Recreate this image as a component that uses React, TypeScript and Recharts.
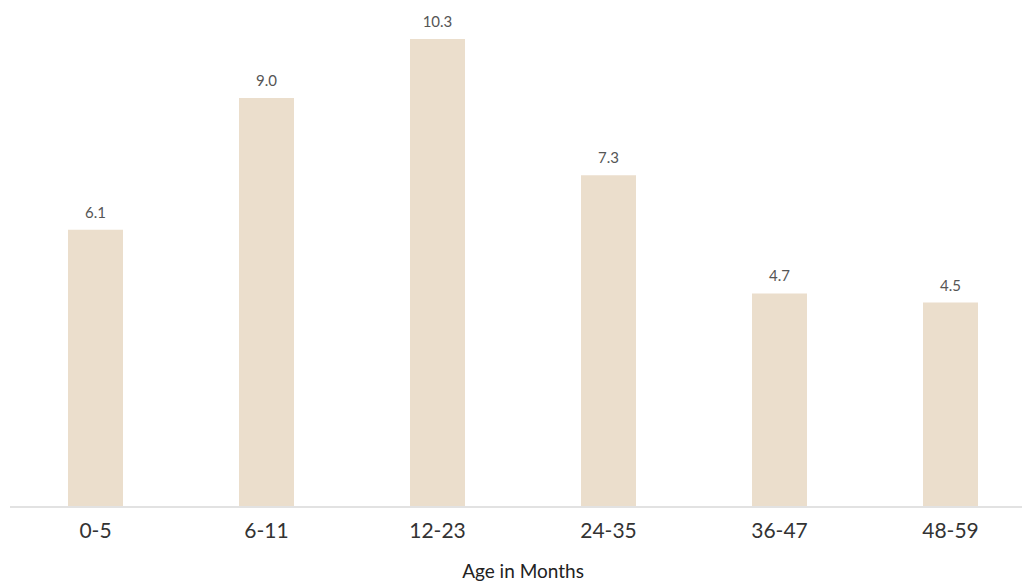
import React from "react";
import { BarChart, Bar, XAxis, YAxis, LabelList } from "recharts";

const categories = ["0-5", "6-11", "12-23", "24-35", "36-47", "48-59"];
const values = [6.1, 9.0, 10.3, 7.3, 4.7, 4.5];
const valueLabels = ["6.1", "9.0", "10.3", "7.3", "4.7", "4.5"];

const data = categories.map((c, i) => ({ age: c, value: values[i], label: valueLabels[i] }));

const FONT = "Lato, 'Open Sans', sans-serif";

export default function App() {
  return (
    <div style={{ position: "absolute", left: 0, top: 0, width: 1022, height: 582, overflow: "hidden", background: "#fff" }}>
      <BarChart
        width={1040}
        height={582}
        data={data}
        margin={{ top: 39, right: 4, bottom: 0, left: 10 }}
        barCategoryGap={0}
      >
        <XAxis
          dataKey="age"
          height={75}
          tickLine={false}
          axisLine={{ stroke: "#e2e2e2", strokeWidth: 2 }}
          tick={{ fill: "#333", fontSize: 21, fontFamily: FONT }}
          tickMargin={10}
          label={{ value: "Age in Months", position: "insideBottom", offset: 4, fill: "#222", fontSize: 19, fontFamily: FONT }}
        />
        <YAxis hide domain={[0, 10.3]} />
        <Bar dataKey="value" fill="#EBDECC" barSize={55} isAnimationActive={false}>
          <LabelList dataKey="label" position="top" offset={12} fill="#555" fontSize={15} fontFamily={FONT} />
        </Bar>
      </BarChart>
    </div>
  );
}
